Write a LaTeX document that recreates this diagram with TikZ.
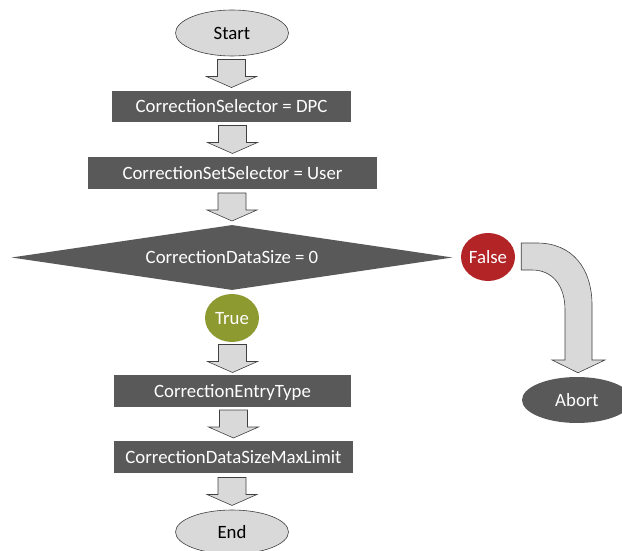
\documentclass[tikz,border=0pt]{standalone}
\usepackage{fontspec}
\setmainfont{Carlito}
\usetikzlibrary{shapes.geometric,calc}
\definecolor{boxgray}{HTML}{595959}
\definecolor{lightgray}{HTML}{D9D9D9}
\definecolor{edgegray}{HTML}{404040}
\definecolor{trueolive}{HTML}{8C9A2F}
\definecolor{falsered}{HTML}{B22426}
\tikzset{
  every node/.style={font=\fontsize{18.8bp}{22bp}\selectfont, inner sep=0pt, text height=12.1bp, text depth=0pt},
  procbox/.style={rectangle, fill=boxgray, text=white, minimum height=31bp},
  termshape/.style={ellipse, fill=lightgray, draw=edgegray, line width=0.6bp, minimum width=113bp, minimum height=46bp},
  decshape/.style={diamond, fill=boxgray, text=white, aspect=6.8, minimum width=441bp, minimum height=65bp},
  outcome/.style={ellipse, text=white, minimum width=54bp, minimum height=48bp},
  blockarrow/.style={fill=lightgray, draw=edgegray, line width=0.6bp, line join=miter},
}
\newcommand\blockarr[2]{%
  \coordinate (mm) at ($(#1.south)!0.5!(#2.north)$);
  \coordinate (m) at (#2.north |- mm);
  \draw[blockarrow] ($(m)+(-14,-14)$) -- ($(m)+(14,-14)$) -- ($(m)+(14,3)$) -- ($(m)+(25,3)$)
    -- ($(m)+(0,14)$) -- ($(m)+(-25,3)$) -- ($(m)+(-14,3)$) -- cycle;
}
\begin{document}
\begin{tikzpicture}[x=1bp,y=-1bp]
\useasboundingbox (0,0) rectangle (622,551);
\node[termshape] (start) at (232,33) {Start};
\node[procbox, minimum width=239bp] (sel) at (231.5,106.5) {CorrectionSelector = DPC};
\node[procbox, minimum width=289bp, minimum height=32bp] (setsel) at (232.5,173) {CorrectionSetSelector = User};
\node[decshape] (dec) at (232,257.5) {CorrectionDataSize = 0};
\node[outcome, fill=trueolive] (true) at (232,318) {True};
\node[outcome, fill=falsered] (false) at (488,257) {False};
\node[procbox, minimum width=237bp, minimum height=32bp] (entry) at (232.5,391) {CorrectionEntryType};
\node[procbox, minimum width=239bp, minimum height=32bp] (maxlim) at (233.5,457) {CorrectionDataSizeMaxLimit};
\node[termshape, minimum height=44bp] (end) at (232,532) {End};
\node[ellipse, fill=boxgray, text=white, minimum width=110bp, minimum height=46bp] (abort) at (577,400) {Abort};
\blockarr{start}{sel}
\blockarr{sel}{setsel}
\blockarr{setsel}{dec}
\blockarr{true}{entry}
\blockarr{entry}{maxlim}
\blockarr{maxlim}{end}
\coordinate (fs) at ($(false.east)+(6,0)$);
\coordinate (at) at ($(abort.north)+(1,-4)$);
\draw[blockarrow] (fs |- 0,243) -- (537,243) .. controls (572,243) and (592,268) .. (592,305)
  -- (592,360) -- (605,360) -- (at) -- (552,360) -- (565,360) -- (565,310)
  .. controls (565,285) and (552,270) .. (532,270) -- (fs |- 0,270) -- cycle;
\end{tikzpicture}
\end{document}
